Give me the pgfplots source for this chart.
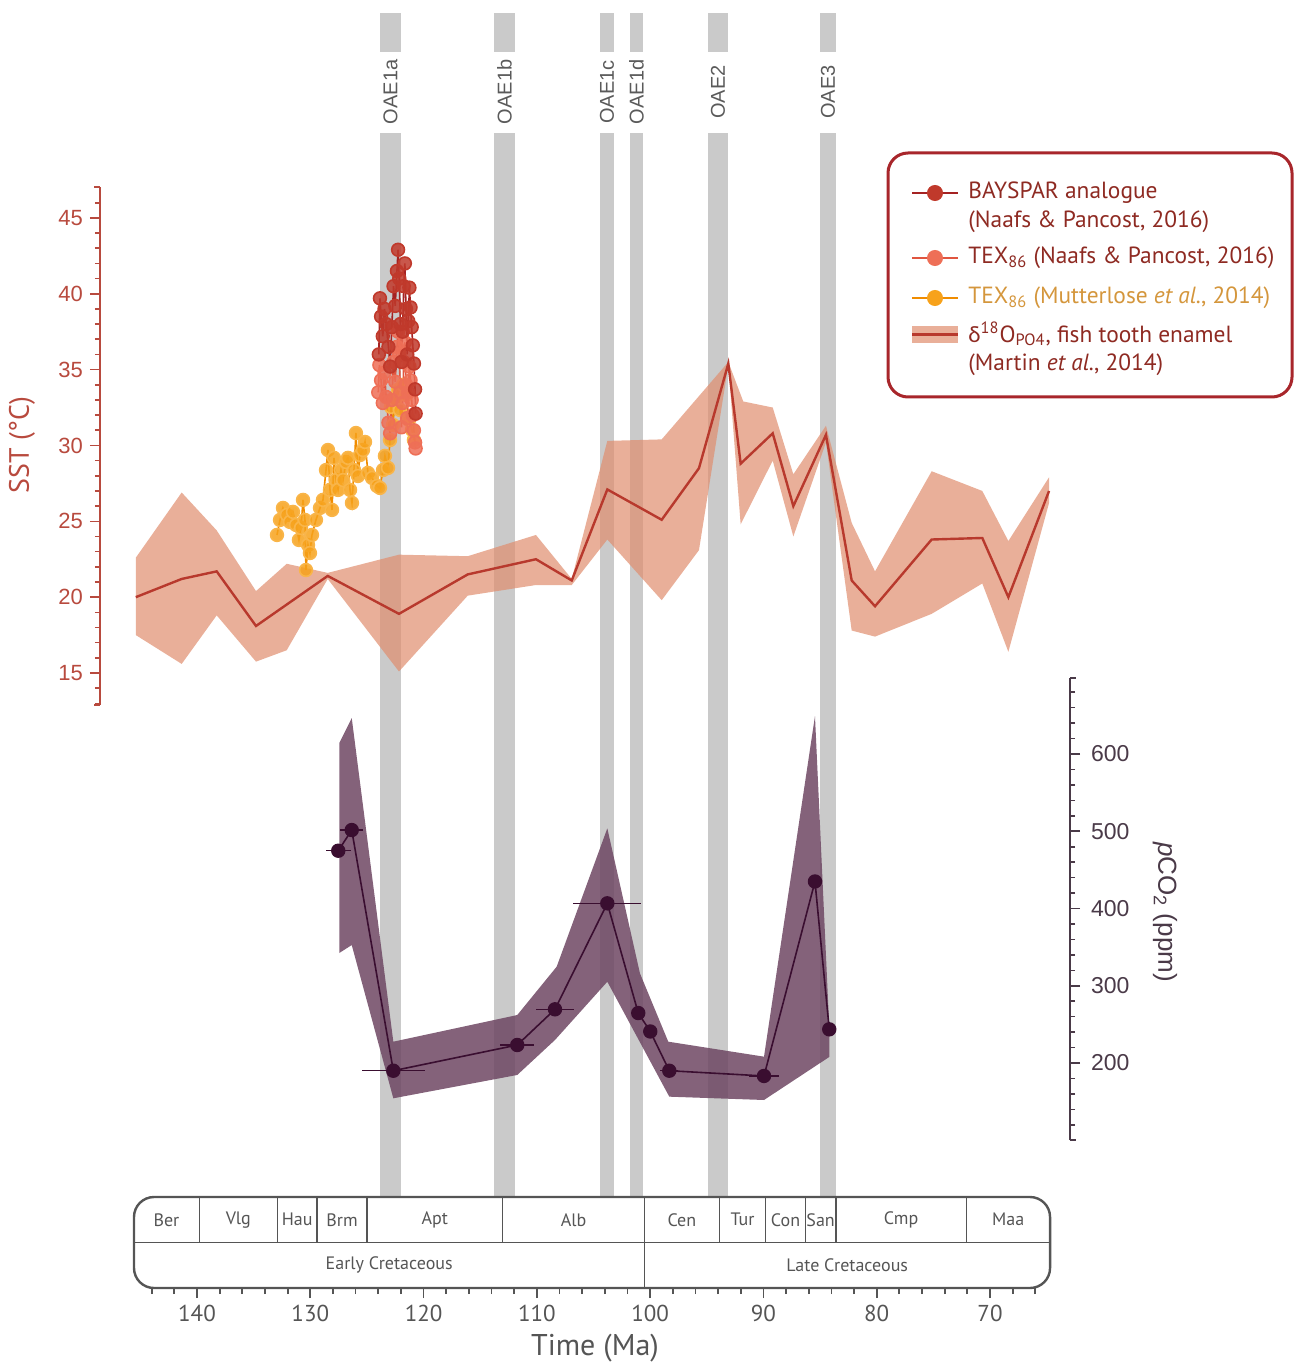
\documentclass[border=0pt]{standalone}
\usepackage{pgfplots}
\pgfplotsset{compat=1.18}
\usepackage{fontspec}
\setmainfont{PT Sans}
\newfontfamily\helv{Liberation Sans}
\newfontfamily\carl{Carlito}

\definecolor{sstred}{HTML}{B84A3E}
\definecolor{legred}{HTML}{A8262B}
\definecolor{legtext}{HTML}{8E2A22}
\definecolor{mutttext}{HTML}{D4963C}
\definecolor{bayred}{HTML}{C0392B}
\definecolor{bayline}{HTML}{A52222}
\definecolor{texred}{HTML}{EE6F57}
\definecolor{texline}{HTML}{E0553F}
\definecolor{orangem}{HTML}{F7A21B}
\definecolor{orangel}{HTML}{F08C00}
\definecolor{fishfill}{HTML}{E08D6E}
\definecolor{fishline}{HTML}{B8392D}
\definecolor{purpfill}{HTML}{6E4763}
\definecolor{purpdark}{HTML}{3A0E30}
\definecolor{oaegray}{HTML}{CACACA}
\definecolor{oaetext}{HTML}{5A5A5A}
\definecolor{tsgray}{HTML}{555555}
\definecolor{co2gray}{HTML}{4A3A48}

% SST records (Ma, degC)
\pgfplotstableread{
x y
132.94 24.10
132.67 25.09
132.41 25.88
132.06 25.42
131.79 24.96
131.53 25.62
131.26 24.76
131.00 23.77
130.82 24.56
130.64 26.41
130.47 25.09
130.38 21.79
130.20 23.44
130.03 22.91
129.85 24.10
129.50 25.09
129.14 25.88
128.88 26.41
128.61 28.38
128.44 29.70
128.26 27.07
128.08 25.75
127.91 29.18
127.73 27.72
127.55 27.07
127.29 28.38
127.11 27.72
126.85 28.91
126.67 29.18
126.49 27.07
126.32 26.21
126.14 28.38
125.97 30.82
125.79 27.99
125.61 29.37
125.35 29.70
125.17 30.23
124.91 28.19
124.55 27.86
124.11 27.33
123.85 27.20
123.58 28.38
123.41 29.31
123.14 28.52
122.96 30.36
122.88 32.54
122.70 31.35
122.52 33.00
122.26 33.66
122.08 32.34
121.82 33.99
121.55 33.33
121.29 31.68
121.02 31.02
120.85 30.36
}\mutterlose

\pgfplotstableread{
x y
124.00 33.5
123.90 35.3
123.75 34.3
123.60 32.8
123.45 34.8
123.30 33.2
123.10 31.5
122.95 30.8
122.80 33.0
122.65 35.5
122.50 34.2
122.35 36.5
122.25 37.5
122.15 36.0
122.05 33.5
121.95 31.2
121.85 32.8
121.75 35.5
121.65 36.8
121.55 34.0
121.45 31.8
121.35 33.5
121.25 35.2
121.15 34.3
121.05 33.0
120.95 32.0
120.85 31.0
120.75 30.2
120.70 29.8
}\texnaafs

\pgfplotstableread{
x y
123.95 36.0
123.85 39.7
123.75 38.5
123.60 37.2
123.45 39.0
123.30 38.0
123.10 36.5
122.95 35.2
122.80 37.8
122.65 40.5
122.50 39.2
122.35 41.5
122.25 42.9
122.15 41.0
122.05 38.0
121.95 35.5
121.85 37.5
121.75 40.5
121.65 42.0
121.55 39.0
121.45 36.0
121.35 38.2
121.25 40.4
121.15 39.1
121.05 37.8
120.95 36.6
120.85 35.4
120.75 33.7
120.70 32.1
}\bayspar

\pgfplotstableread{
x y
145.40 20.0
141.35 21.2
138.26 21.7
134.79 18.1
128.46 21.4
122.17 18.9
116.10 21.5
110.08 22.5
106.92 21.1
103.78 27.1
98.98 25.1
95.69 28.5
93.10 35.4
92.01 28.8
89.18 30.8
87.36 26.0
84.48 30.7
82.21 21.1
80.15 19.4
75.15 23.8
70.68 23.9
68.38 20.0
64.79 27.0
}\fishmean

% pCO2 (Ma, ppm, age error)
\pgfplotstableread{
x y e
127.53 474.8 1.1
126.34 501.6 1.0
122.67 190.0 2.8
111.73 223.3 1.5
108.40 269.5 1.7
103.78 406.7 3.0
101.05 264.7 0
99.99 240.8 0
98.31 190.0 0.8
89.95 183.2 1.3
85.45 435.0 0
84.19 243.6 0
}\pcotwo

\newcommand\oae[2]{%
  \addplot[fill=oaegray, draw=none] coordinates {(#1,13) (#2,13) (#2,52) (#1,52)} -- cycle;
  \addplot[fill=oaegray, draw=none] coordinates {(#1,133) (#2,133) (#2,1197) (#1,1197)} -- cycle;
}

\pgfplotsset{
  timex/.style={scale only axis, width=485pt, xmin=62.939, xmax=148.562,
    x dir=reverse, clip=false, /pgf/number format/assume math mode=true},
}

\begin{document}
\begin{tikzpicture}
\path[use as bounding box] (0,0) rectangle (648pt,-681.5pt);

% background: event bands and legend keys (x in Ma, y in pixels from top)
\begin{axis}[at={(0pt,-681.5pt)}, anchor=south west, scale only axis,
  width=648pt, height=681.5pt, xmin=42.989, xmax=157.39, x dir=reverse,
  ymin=0, ymax=1363, y dir=reverse, hide axis, clip=false]
\oae{123.85}{121.99}
\oae{113.78}{111.93}
\oae{104.43}{103.19}
\oae{101.78}{100.63}
\oae{94.89}{93.13}
\oae{85.01}{83.59}
% legend keys
\addplot[bayline, line width=1.2pt, mark=*, mark indices={2}, mark size=3.4pt,
  mark options={fill=bayred, draw=bayred}] coordinates {(76.885,193) (74.856,193) (72.825,193)};
\addplot[texline, line width=1.2pt, mark=*, mark indices={2}, mark size=3.4pt,
  mark options={fill=texred, draw=texred}] coordinates {(76.885,258) (74.856,258) (72.825,258)};
\addplot[orangel, line width=1.2pt, mark=*, mark indices={2}, mark size=3.4pt,
  mark options={fill=orangem, draw=orangem}] coordinates {(76.885,298) (74.856,298) (72.825,298)};
\addplot[fill=fishfill, fill opacity=0.7, draw=none] coordinates {(76.885,326) (72.825,326) (72.825,343) (76.885,343)} -- cycle;
\addplot[fishline, line width=1.2pt] coordinates {(76.885,334.5) (72.825,334.5)};
\end{axis}

% SST
\begin{axis}[timex, at={(50pt,-352.5pt)}, anchor=south west, height=259pt,
  ymin=12.891, ymax=47.037, axis y line=left, axis x line=none,
  y axis line style={sstred, line width=0.9pt, -},
  ytick={15,20,...,45}, minor ytick={13,...,47},
  tick align=outside, major tick length=5pt, minor tick length=2.5pt,
  every tick/.style={sstred, line width=0.8pt},
  yticklabel style={font=\helv\fontsize{11}{13}\selectfont, text=sstred}]
\addplot[fill=fishfill, fill opacity=0.7, draw=none] coordinates {
 (145.4,22.6) (141.35,26.9) (138.26,24.4) (134.79,20.4) (132.08,22.2) (128.46,21.6)
 (122.17,22.8) (116.10,22.7) (110.08,24.1) (106.92,21.2) (103.78,30.3) (98.98,30.4)
 (93.10,35.5) (91.78,32.9) (89.18,32.5) (87.36,28.1) (84.48,31.3) (82.21,24.9)
 (80.15,21.7) (75.15,28.3) (70.68,27.0) (68.38,23.7) (64.79,27.9)
 (64.79,26.2) (68.38,16.4) (70.68,20.9) (75.15,18.9) (80.15,17.4) (82.21,17.8)
 (84.48,30.2) (87.36,24.0) (89.18,29.0) (92.01,24.8) (93.10,35.3) (95.69,23.1)
 (98.98,19.8) (103.78,23.8) (106.92,20.8) (110.08,20.8) (116.10,20.1) (122.17,15.1)
 (128.46,21.2) (132.08,16.5) (134.79,15.75) (138.26,18.8) (141.35,15.6) (145.4,17.5)} -- cycle;
\addplot[fishline, line width=1.2pt, no marks] table {\fishmean};
\addplot[orangel, line width=0.8pt, mark=*, mark size=3.2pt,
  mark options={fill=orangem, draw=orangem!80!white, fill opacity=0.85}] table {\mutterlose};
\addplot[texline, line width=0.8pt, mark=*, mark size=3.2pt,
  mark options={fill=texred, draw=texred, fill opacity=0.85}] table {\texnaafs};
\addplot[bayline, line width=0.8pt, mark=*, mark size=3.2pt,
  mark options={fill=bayred, draw=bayred, fill opacity=0.85}] table {\bayspar};
\draw[sstred, line width=0.9pt] (rel axis cs:0,1) -- ++(-3pt,0pt);
\draw[sstred, line width=0.9pt] (rel axis cs:0,0) -- ++(-3pt,0pt);
\end{axis}

% pCO2
\begin{axis}[timex, at={(50pt,-570pt)}, anchor=south west, height=231pt,
  ymin=100.3, ymax=698.4, axis y line=right, axis x line=none,
  y axis line style={co2gray, line width=0.9pt, -},
  ytick={200,300,...,600}, minor ytick={100,120,...,680},
  tick align=outside, major tick length=5pt, minor tick length=2.5pt,
  every tick/.style={co2gray, line width=0.8pt},
  yticklabel style={font=\helv\fontsize{11.5}{13}\selectfont, text=co2gray, xshift=2pt}]
\addplot[fill=purpfill, fill opacity=0.85, draw=none] coordinates {
 (127.44,342.4) (127.44,614.2) (126.34,646.6) (122.67,227.6) (111.73,262.1) (108.25,324.7)
 (103.78,503.8) (100.90,316.1) (98.40,227.6) (89.95,208.2) (85.45,649.2) (84.19,246.6)
 (84.19,207.8) (89.95,152.1) (98.31,156.4) (103.78,305.2) (108.40,229.8) (111.73,184.5)
 (122.67,154.3) (126.34,352.7)} -- cycle;
\addplot[purpdark, line width=0.8pt, mark=*, mark size=3.2pt,
  mark options={fill=purpdark, draw=purpdark},
  error bars/.cd, x dir=both, x explicit, error mark=none,
  error bar style={line width=0.6pt, purpdark}]
  table[x=x, y=y, x error=e] {\pcotwo};
\draw[co2gray, line width=0.9pt] (rel axis cs:1,1) -- ++(3pt,0pt);
\draw[co2gray, line width=0.9pt] (rel axis cs:1,0) -- ++(3pt,0pt);
\end{axis}

% geological time scale
\begin{axis}[timex, at={(50pt,-644pt)}, anchor=south west, height=45.5pt,
  ymin=0, ymax=2, axis x line=bottom, axis y line=none,
  x axis line style={draw=none},
  xtick={70,80,...,140}, minor xtick={66,68,...,144},
  tick align=outside, major tick length=5pt, minor tick length=3pt,
  every tick/.style={tsgray, line width=0.9pt},
  xticklabel style={font=\fontsize{11.5}{13}\selectfont, text=tsgray}]
\draw[tsgray, line width=1.2pt, rounded corners=10pt] (axis cs:145.56,0) rectangle (axis cs:64.70,2);
\draw[tsgray, line width=0.9pt] (axis cs:145.56,1) -- (axis cs:64.70,1);
\pgfplotsinvokeforeach{139.8,132.9,129.4,125,113,93.9,89.8,86.3,83.6,72.1}{
  \draw[tsgray, line width=0.6pt] (axis cs:#1,1) -- (axis cs:#1,2);}
\draw[tsgray, line width=0.6pt] (axis cs:100.5,0) -- (axis cs:100.5,2);
\begin{scope}[every node/.style={font=\fontsize{9}{11}\selectfont, text=tsgray}]
\node at (axis cs:142.7,1.5) {Ber};
\node at (axis cs:136.35,1.5) {Vlg};
\node at (axis cs:131.15,1.5) {Hau};
\node at (axis cs:127.2,1.5) {Brm};
\node at (axis cs:119,1.5) {Apt};
\node at (axis cs:106.75,1.5) {Alb};
\node at (axis cs:97.2,1.5) {Cen};
\node at (axis cs:91.85,1.5) {Tur};
\node at (axis cs:88.05,1.5) {Con};
\node at (axis cs:84.95,1.5) {San};
\node at (axis cs:77.85,1.5) {Cmp};
\node at (axis cs:68.4,1.5) {Maa};
\node at (axis cs:123.03,0.5) {Early Cretaceous};
\node at (axis cs:82.6,0.5) {Late Cretaceous};
\end{scope}
\end{axis}

% labels and legend frame (x, y in pixels of the figure)
\begin{scope}[x=0.5pt, y=-0.5pt]
\begin{scope}[every node/.style={rotate=90, font=\helv\fontsize{10}{12}\selectfont, text=oaetext}]
\node at (390.5,92) {OAE1a};
\node at (504.5,92) {OAE1b};
\node at (607,92) {OAE1c};
\node at (636.5,92) {OAE1d};
\node at (718,92) {OAE2};
\node at (828,92) {OAE3};
\end{scope}
\node[rotate=90, font=\fontsize{14}{16}\selectfont, text=sstred] at (22,445) {SST (°C)};
\node[rotate=-90, font=\helv\fontsize{13}{15}\selectfont, text=co2gray] at (1165,912) {\textit{p}CO\textsubscript{2} (ppm)};
\node[font=\fontsize{15}{17}\selectfont, text=tsgray] at (595,1348) {Time (Ma)};
\draw[legred, line width=1.5pt, rounded corners=10pt] (888,153) rectangle (1292,397);
\begin{scope}[every node/.style={anchor=west, font=\fontsize{11.7}{13}\selectfont, text=legtext, inner sep=0pt}]
\node at (968,193) {BAYSPAR analogue};
\node at (968,222) {(Naafs \& Pancost, 2016)};
\node at (968,258) {TEX\textsubscript{86} (Naafs \& Pancost, 2016)};
\node[text=mutttext] at (968,298) {TEX\textsubscript{86} (Mutterlose \textit{et al.}, 2014)};
\node at (968,334) {{\carl δ}\textsuperscript{18}O\textsubscript{PO4}, fish tooth enamel};
\node at (968,365) {(Martin \textit{et al.}, 2014)};
\end{scope}
\end{scope}
\end{tikzpicture}
\end{document}
